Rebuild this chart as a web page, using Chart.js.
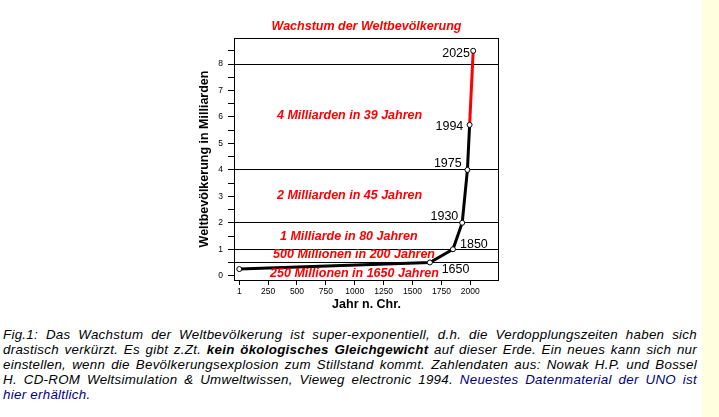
<!DOCTYPE html>
<html>
<head>
<meta charset="utf-8">
<script src="https://cdn.jsdelivr.net/npm/chart.js@4.4.1/dist/chart.umd.min.js"></script>
<style>
  html, body { margin: 0; padding: 0; background: #ffffff; width: 719px; height: 417px; overflow: hidden; }
  #strip { position: absolute; left: 702px; top: 0; width: 17px; height: 417px; background: #ffffe0; }
  #wrap { position: absolute; left: 0; top: 0; width: 700px; height: 318px; }
  #cap { position: absolute; left: 3px; top: 326.7px; width: 694px; font-family: "Liberation Sans", Arial, sans-serif;
         font-size: 13.33px; font-style: italic; color: #000; line-height: normal; letter-spacing: 0.28px; }
  #cap .j { text-align: justify; text-align-last: justify; }
  #cap .l { color: #000080; }
</style>
</head>
<body>
<div id="strip"></div>
<div id="wrap"><canvas id="c" width="700" height="318"></canvas></div>
<div id="cap">
  <div class="j">Fig.1: Das Wachstum der Weltbevölkerung ist super-exponentiell, d.h. die Verdopplungszeiten haben sich</div>
  <div class="j">drastisch verkürzt. Es gibt z.Zt. <b>kein ökologisches Gleichgewicht</b> auf dieser Erde. Ein neues kann sich nur</div>
  <div class="j">einstellen, wenn die Bevölkerungsexplosion zum Stillstand kommt. Zahlendaten aus: Nowak H.P. und Bossel</div>
  <div class="j">H. CD-ROM Weltsimulation &amp; Umweltwissen, Vieweg electronic 1994. <span class="l">Neuestes Datenmaterial der UNO ist</span></div>
  <div><span class="l">hier erhältlich</span>.</div>
</div>
<script>
// ---- data ----
const years = [1, 1650, 1850, 1930, 1975, 1994, 2025];
const population = [0.25, 0.5, 1, 2, 4, 5.7, 8.5];
const yearLabels = ['', '1650', '1850', '1930', '1975', '1994', '2025'];
const xTicks = [1, 250, 500, 750, 1000, 1250, 1500, 1750, 2000];
const yTicks = [0, 0.5, 1, 1.5, 2, 2.5, 3, 3.5, 4, 4.5, 5, 5.5, 6, 6.5, 7, 7.5, 8, 8.5];
const refLines = [0.5, 1, 2, 4, 8];
const bandTexts = ['250 Millionen in 1650 Jahren', '500 Millionen in 200 Jahren', '1 Milliarde in 80 Jahren',
                   '2 Milliarden in 45 Jahren', '4 Milliarden in 39 Jahren'];
const bandYears = [998, 994, 948, 955, 955];
const bandLevels = [-0.06, 0.66, 1.36, 2.90, 5.93];
const forecastFromIndex = 5;

// ---- layout / style (not data) ----
const FONT = '"Liberation Sans", Arial, Helvetica, sans-serif';
const labelOffsets = [
  null,
  {dx: 11.8, dy: 10.8, align: 'left'},
  {dx: 7, dy: -1.5, align: 'left'},
  {dx: -3.9, dy: -3.1, align: 'right'},
  {dx: -5.7, dy: -3.2, align: 'right'},
  {dx: -6.3, dy: 4.7, align: 'right'},
  {dx: -3.2, dy: 5.9, align: 'right'}
];

const annotPlugin = {
  id: 'annot',
  afterDatasetsDraw(chart) {
    const {ctx, chartArea, scales} = chart;
    const xs = scales.x, ys = scales.y;
    ctx.save();
    // band labels
    ctx.fillStyle = '#ff0000';
    ctx.font = 'italic bold 12.5px ' + FONT;
    ctx.textAlign = 'center';
    ctx.textBaseline = 'alphabetic';
    bandTexts.forEach((t, i) => {
      ctx.fillText(t, xs.getPixelForValue(bandYears[i]), ys.getPixelForValue(bandLevels[i]));
    });
    // year labels
    ctx.fillStyle = '#000';
    ctx.font = '12.5px ' + FONT;
    yearLabels.forEach((t, i) => {
      if (!t) return;
      const o = labelOffsets[i];
      ctx.textAlign = o.align;
      ctx.fillText(t, xs.getPixelForValue(years[i]) + o.dx, ys.getPixelForValue(population[i]) + o.dy);
    });
    // frame
    ctx.strokeStyle = '#000';
    ctx.lineWidth = 1;
    ctx.strokeRect(chartArea.left + 0.5, chartArea.top + 0.5,
                   chartArea.right - chartArea.left - 1, chartArea.bottom - chartArea.top);
    ctx.restore();
  }
};

new Chart(document.getElementById('c'), {
  type: 'scatter',
  data: {
    datasets: [{
      data: years.map((x, i) => ({x: x, y: population[i]})),
      showLine: true,
      borderColor: '#000',
      borderWidth: 3,
      segment: {
        borderColor: c => c.p0DataIndex >= forecastFromIndex ? '#ff0000' : '#000'
      },
      tension: 0,
      fill: false,
      pointRadius: 2.5,
      pointBorderWidth: 1,
      pointBorderColor: '#000',
      pointBackgroundColor: '#fff'
    }]
  },
  options: {
    responsive: false,
    devicePixelRatio: 1,
    animation: false,
    layout: { padding: { left: 174, right: 201, top: 0, bottom: 6 } },
    plugins: {
      legend: { display: false },
      tooltip: { enabled: false },
      title: {
        display: true,
        fullSize: false,
        text: 'Wachstum der Weltbevölkerung',
        color: '#ff0000',
        font: { family: FONT, size: 12.5, weight: 'bold', style: 'italic' },
        padding: { top: 19, bottom: 4 }
      }
    },
    scales: {
      x: {
        type: 'linear',
        min: -44.9,
        max: 2248.3,
        afterBuildTicks: s => { s.ticks = xTicks.map(v => ({value: v})); },
        afterFit: s => { s.height = 32; },
        ticks: {
          autoSkip: false, maxRotation: 0, padding: 1.5, color: '#000',
          font: { family: FONT, size: 8.5 },
          callback: v => String(v)
        },
        grid: { drawOnChartArea: false, tickLength: 5, tickColor: '#000', lineWidth: 1 },
        border: { display: false },
        title: {
          display: true, text: 'Jahr n. Chr.', color: '#000',
          font: { family: FONT, size: 12.5, weight: 'bold' },
          padding: { top: 0, bottom: 0 }
        }
      },
      y: {
        type: 'linear',
        min: -0.1625,
        max: 8.983,
        afterBuildTicks: s => { s.ticks = yTicks.map(v => ({value: v})); },
        afterFit: s => { s.width = 60; },
        ticks: {
          autoSkip: false, padding: 5, color: '#000',
          font: { family: FONT, size: 8.5 },
          callback: v => Number.isInteger(v) ? String(v) : ''
        },
        grid: {
          drawOnChartArea: true,
          color: c => (c.tick && refLines.includes(c.tick.value)) ? '#000' : 'rgba(0,0,0,0)',
          tickColor: '#000',
          tickLength: 6,
          lineWidth: 1
        },
        border: { display: false },
        title: {
          display: true, text: 'Weltbevölkerung in Milliarden', color: '#000',
          font: { family: FONT, size: 12.5, weight: 'bold' },
          padding: { top: 23.2, bottom: 0 }
        }
      }
    }
  },
  plugins: [annotPlugin]
});
</script>
</body>
</html>
